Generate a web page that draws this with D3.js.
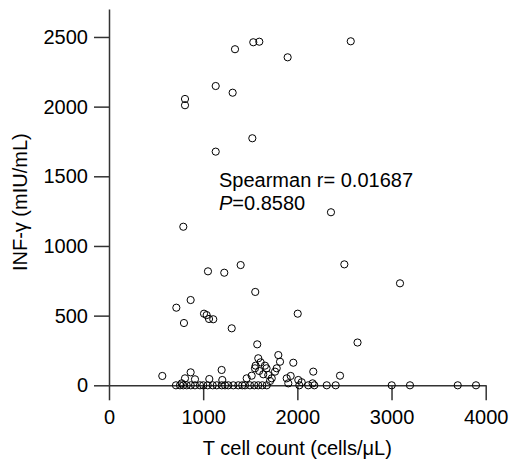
<!DOCTYPE html>
<html><head><meta charset="utf-8">
<script src="https://cdn.jsdelivr.net/npm/d3@7"></script>
<style>body{margin:0;background:#fff}svg{display:block}text{font-family:"Liberation Sans",Arial,sans-serif}</style>
</head><body>
<svg id="chart" width="510" height="467"></svg>
<script>
// T cell count (cells/µL)
const tCells = [
  1338,1532,1596,1897,2567,1133,1313,807,807,1522,1133,2357,789,1051,1224,1398,2499,3090,1553,867,715,1009,1037,1062,1107,796,1303,2004,2639,
  566,867,913,807,772,1065,1196,1203,1574,1585,1610,1557,1550,1656,1673,1595,1638,1691,1515,1462,1728,1710,1798,1816,1781,1763,1887,1957,1904,1929,2010,2046,2162,2169,2453,
  711,754,789,825,868,913,966,1001,1048,1101,1144,1197,1232,1267,1320,1373,1415,1444,1497,1543,1585,1628,1675,2021,2116,2180,2312,2407,3002,3196,3703,3897
];
// INF-γ (mIU/mL)
const infGamma = [
  2412,2462,2466,2354,2469,2148,2100,2055,2010,1773,1677,1242,1138,818,808,863,868,732,670,612,557,514,504,476,474,447,409,514,307,
  67,93,43,50,14,45,110,38,294,194,165,141,122,141,122,103,79,74,69,50,50,31,217,169,122,98,50,162,14,67,38,22,14,98,69,
  0,0,0,0,0,0,0,0,0,0,0,0,0,0,0,0,0,0,0,0,0,0,0,0,0,0,0,0,0,0,0,0
];
const xTicks = [0,1000,2000,3000,4000];
const yTicks = [0,500,1000,1500,2000,2500];
const annotation = ["Spearman r= 0.01687", "0.8580"];

const svg = d3.select("#chart");
const x = d3.scaleLinear().domain([0,4000]).range([109,485.7]);
const y = d3.scaleLinear().domain([0,2700]).range([385.3,9.1]);

const axisColor = "#333";
const gx = svg.append("g").attr("transform",`translate(0,${y(0)})`)
  .call(d3.axisBottom(x).tickValues(xTicks).tickSize(15).tickSizeOuter(0).tickPadding(10).tickFormat(d3.format("d")));
const gy = svg.append("g").attr("transform",`translate(${x(0)},0)`)
  .call(d3.axisLeft(y).tickValues(yTicks).tickSize(15).tickSizeOuter(0).tickPadding(6).tickFormat(d3.format("d")));
[gx,gy].forEach(g=>{
  g.selectAll("path.domain").attr("stroke",axisColor).attr("stroke-width",1.5);
  g.selectAll(".tick line").attr("stroke",axisColor).attr("stroke-width",1.5);
  g.selectAll(".tick text").attr("fill","#000").style("font-size","20px").style("font-family","'Liberation Sans',Arial,sans-serif");
});

svg.append("text").attr("x",(x(0)+x(4000))/2).attr("y",455).attr("text-anchor","middle")
  .style("font-size","20px").text("T cell count (cells/μL)");
svg.append("text").attr("transform",`translate(27,${(y(0)+y(2700))/2 + 5}) rotate(-90)`).attr("text-anchor","middle")
  .style("font-size","20px").text("INF-γ (mIU/mL)");

svg.append("g").selectAll("circle").data(tCells.map((d,i)=>[d,infGamma[i]])).join("circle")
  .attr("cx",d=>x(d[0])).attr("cy",d=>y(d[1])).attr("r",3.6)
  .attr("fill","none").attr("stroke","#000").attr("stroke-width",1);

svg.append("text").attr("x",219).attr("y",186.5).style("font-size","20px").text(annotation[0]);
const t2 = svg.append("text").attr("x",219).attr("y",210).style("font-size","20px");
t2.append("tspan").style("font-style","italic").text("P");
t2.append("tspan").text("=" + annotation[1]);
</script>
</body></html>
